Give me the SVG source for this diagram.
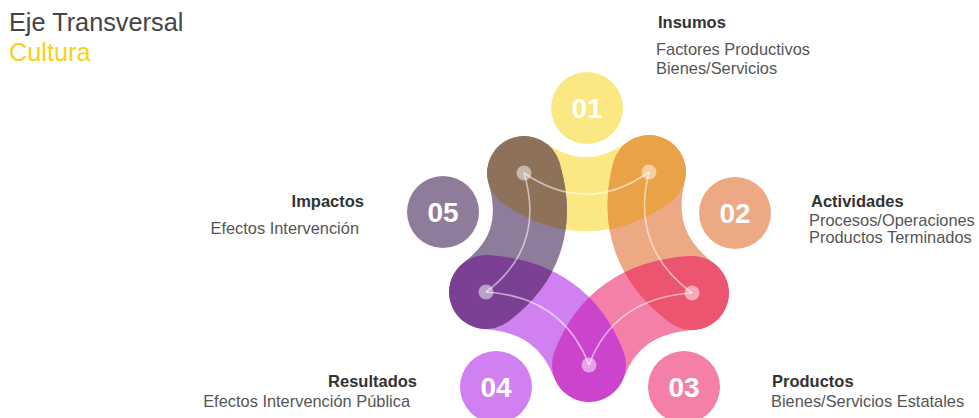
<svg xmlns="http://www.w3.org/2000/svg" xmlns:xlink="http://www.w3.org/1999/xlink" width="979" height="418" viewBox="0 0 979 418">
  <style>
    .band { fill: none; stroke-width: 74; stroke-linecap: round; }
    .num { font-family: "Liberation Sans", Arial, sans-serif; font-weight: bold; font-size: 28px; fill: #ffffff; text-anchor: middle; }
    .title { font-family: "Liberation Sans", Arial, sans-serif; font-weight: bold; font-size: 16.5px; fill: #333333; }
    .desc { font-family: "Liberation Sans", Arial, sans-serif; font-size: 16.4px; fill: #555555; }
    .head { font-family: "Liberation Sans", Arial, sans-serif; font-size: 25.3px; }
    .link { fill: none; stroke: #ffffff; stroke-opacity: 0.55; stroke-width: 1.6; }
    .dot { fill: #ffffff; fill-opacity: 0.5; }
  </style>
  <defs>
    <path id="b1" class="band" d="M524,173 Q587,216 649,172"/>
    <path id="b2" class="band" d="M649,172 Q630,247 692,293"/>
    <path id="b3" class="band" d="M692,293 Q614,298 589,365"/>
    <path id="b4" class="band" d="M589,365 Q563,297 486,292"/>
    <path id="b5" class="band" d="M486,292 Q546,247 524,173"/>
    <mask id="m1" maskUnits="userSpaceOnUse" x="0" y="0" width="979" height="418"><use xlink:href="#b1" stroke="#ffffff"/></mask>
    <mask id="m2" maskUnits="userSpaceOnUse" x="0" y="0" width="979" height="418"><use xlink:href="#b2" stroke="#ffffff"/></mask>
    <mask id="m3" maskUnits="userSpaceOnUse" x="0" y="0" width="979" height="418"><use xlink:href="#b3" stroke="#ffffff"/></mask>
    <mask id="m4" maskUnits="userSpaceOnUse" x="0" y="0" width="979" height="418"><use xlink:href="#b4" stroke="#ffffff"/></mask>
  </defs>

  <g id="title">
    <text class="head" x="9" y="31" fill="#444444">Eje Transversal</text>
    <text class="head" x="9" y="61" fill="#F7D117">Cultura</text>
  </g>

  <g id="bands">
    <use xlink:href="#b1" stroke="#FCE883"/>
    <use xlink:href="#b2" stroke="#ECA983"/>
    <use xlink:href="#b3" stroke="#F47FA8"/>
    <use xlink:href="#b4" stroke="#D080F0"/>
    <use xlink:href="#b5" stroke="#8F7C9A"/>
    <use xlink:href="#b2" stroke="#E9A246" mask="url(#m1)"/>
    <use xlink:href="#b3" stroke="#EC5470" mask="url(#m2)"/>
    <use xlink:href="#b4" stroke="#CC44CC" mask="url(#m3)"/>
    <use xlink:href="#b5" stroke="#7B3F94" mask="url(#m4)"/>
    <use xlink:href="#b5" stroke="#8D7158" mask="url(#m1)"/>
  </g>

  <g id="connectors">
    <path class="link" d="M524,173 Q587,216 649,172"/>
    <path class="link" d="M649,172 Q630,247 692,293"/>
    <path class="link" d="M692,293 Q614,298 589,365"/>
    <path class="link" d="M589,365 Q563,297 486,292"/>
    <path class="link" d="M486,292 Q546,247 524,173"/>
    <circle class="dot" cx="524" cy="173" r="7.5"/>
    <circle class="dot" cx="649" cy="172" r="7.5"/>
    <circle class="dot" cx="692" cy="293" r="7.5"/>
    <circle class="dot" cx="589" cy="365" r="7.5"/>
    <circle class="dot" cx="486" cy="292" r="7.5"/>
  </g>

  <g id="node-01">
    <circle cx="587" cy="108" r="36" fill="#FCE883"/>
    <text class="num" x="587" y="118">01</text>
    <text class="title" x="658" y="28">Insumos</text>
    <text class="desc" x="656" y="55">Factores Productivos</text>
    <text class="desc" x="656" y="74">Bienes/Servicios</text>
  </g>

  <g id="node-02">
    <circle cx="735" cy="213" r="36" fill="#ECA983"/>
    <text class="num" x="735" y="223">02</text>
    <text class="title" x="811" y="207">Actividades</text>
    <text class="desc" x="809" y="226">Procesos/Operaciones</text>
    <text class="desc" x="809" y="243">Productos Terminados</text>
  </g>

  <g id="node-03">
    <circle cx="684" cy="387" r="36" fill="#F47FA8"/>
    <text class="num" x="684" y="397">03</text>
    <text class="title" x="772" y="387">Productos</text>
    <text class="desc" x="771" y="407">Bienes/Servicios Estatales</text>
  </g>

  <g id="node-04">
    <circle cx="496" cy="387" r="36" fill="#D080F0"/>
    <text class="num" x="496" y="397">04</text>
    <text class="title" x="417" y="387" text-anchor="end">Resultados</text>
    <text class="desc" x="410" y="407" text-anchor="end">Efectos Intervención Pública</text>
  </g>

  <g id="node-05">
    <circle cx="443" cy="212" r="36" fill="#8F7C9A"/>
    <text class="num" x="443" y="222">05</text>
    <text class="title" x="364" y="207" text-anchor="end">Impactos</text>
    <text class="desc" x="359" y="234" text-anchor="end">Efectos Intervención</text>
  </g>
</svg>
